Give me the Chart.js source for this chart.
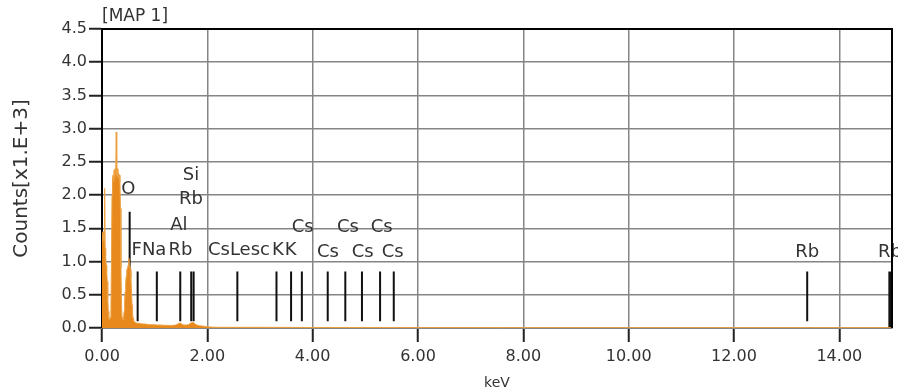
<!DOCTYPE html>
<html>
<head>
<meta charset="utf-8">
<script src="https://cdn.jsdelivr.net/npm/chart.js@4.4.1/dist/chart.umd.min.js"></script>
<style>
  html, body { margin: 0; padding: 0; background: #fff; }
  #wrap { width: 898px; height: 392px; }
</style>
</head>
<body>
<div id="wrap"><canvas id="specCanvas" width="898" height="392"></canvas></div>
<script>
// spectrum (keV, counts x1000)
const specKeV = [0.00, 0.01, 0.02, 0.03, 0.04, 0.05, 0.06, 0.07, 0.08, 0.09, 0.10, 0.11, 0.12, 0.13, 0.14, 0.15,
  0.16, 0.17, 0.18, 0.19, 0.20, 0.21, 0.22, 0.23, 0.24, 0.25, 0.26, 0.27, 0.28, 0.29, 0.30, 0.31, 0.32, 0.33,
  0.34, 0.35, 0.36, 0.37, 0.38, 0.39, 0.40, 0.41, 0.42, 0.43, 0.44, 0.45, 0.46, 0.47, 0.48, 0.49, 0.50, 0.51,
  0.52, 0.53, 0.54, 0.55, 0.56, 0.57, 0.58, 0.59, 0.60, 0.62, 0.64, 0.66, 0.68, 0.70, 0.74, 0.78, 0.82, 0.86,
  0.90, 0.95, 1.00, 1.05, 1.10, 1.15, 1.20, 1.25, 1.30, 1.35, 1.40, 1.44, 1.47, 1.50, 1.53, 1.56, 1.60, 1.64,
  1.68, 1.71, 1.74, 1.77, 1.80, 1.85, 1.90, 1.95, 2.00, 2.05, 2.10, 2.20, 2.50, 3.00, 4.00, 5.00, 6.00, 8.00,
  10.00, 12.00, 14.00, 15.00];
const specCounts = [1.30, 1.42, 1.45, 1.38, 1.30, 2.10, 1.20, 1.08, 0.95, 0.85, 0.70, 0.45, 0.25, 0.15, 0.13, 0.14,
  0.16, 0.30, 1.00, 2.00, 2.25, 2.30, 2.20, 2.38, 2.25, 2.40, 2.30, 2.95, 2.35, 2.28, 2.40, 2.32, 2.25, 2.30,
  2.20, 1.80, 0.90, 0.35, 0.16, 0.12, 0.13, 0.16, 0.25, 0.40, 0.55, 0.68, 0.78, 0.86, 0.90, 0.93, 0.95, 1.05,
  0.94, 0.92, 0.88, 0.75, 0.55, 0.35, 0.22, 0.15, 0.11, 0.09, 0.08, 0.075, 0.07, 0.07, 0.065, 0.06, 0.06, 0.055,
  0.05, 0.05, 0.048, 0.045, 0.045, 0.042, 0.04, 0.04, 0.038, 0.04, 0.045, 0.06, 0.075, 0.07, 0.05, 0.045, 0.045, 0.05,
  0.07, 0.085, 0.08, 0.06, 0.045, 0.035, 0.03, 0.025, 0.02, 0.015, 0.012, 0.01, 0.01, 0.01, 0.008, 0.008, 0.006, 0.005,
  0.005, 0.005, 0.005, 0.005];

// element marker lines
const markerKeV = [0.525, 0.677, 1.041, 1.486, 1.694, 1.740, 2.57, 3.313, 3.59, 3.795, 4.286, 4.62, 4.936, 5.28, 5.54, 13.39, 14.95, 14.98];
const markerTop = [1.75, 0.85, 0.85, 0.85, 0.85, 0.85, 0.85, 0.85, 0.85, 0.85, 0.85, 0.85, 0.85, 0.85, 0.85, 0.85, 0.85, 0.85];
const markerBottom = [0.1, 0.1, 0.1, 0.1, 0.1, 0.1, 0.1, 0.1, 0.1, 0.1, 0.1, 0.1, 0.1, 0.1, 0.1, 0.1, 0.0, 0.0];

// element labels
const labelText = ['O', 'Si', 'Rb', 'Al', 'F', 'Na', 'Rb', 'CsLesc', 'K', 'K', 'Cs', 'Cs', 'Cs', 'Cs', 'Cs', 'Cs', 'Rb', 'Rb'];
const labelKeV = [0.50, 1.69, 1.69, 1.46, 0.66, 0.99, 1.49, 2.60, 3.34, 3.58, 3.81, 4.67, 5.31, 4.29, 4.95, 5.52, 13.39, 14.96];
const labelCounts = [2.08, 2.30, 1.93, 1.55, 1.17, 1.17, 1.17, 1.17, 1.17, 1.17, 1.51, 1.51, 1.51, 1.14, 1.14, 1.14, 1.14, 1.14];

const xTicks = [0, 2, 4, 6, 8, 10, 12, 14];
const yTicks = [0, 0.5, 1, 1.5, 2, 2.5, 3, 3.5, 4, 4.5];

const FONT = 'DejaVu Sans';
const TEXT = '#333333';

function buildMarkerPoints() {
  const pts = [];
  markerKeV.forEach((e, i) => {
    pts.push({ x: e, y: markerBottom[i] });
    pts.push({ x: e, y: markerTop[i] });
    pts.push({ x: e, y: null });
  });
  return pts;
}

const labelPlugin = {
  id: 'elementLabels',
  afterDatasetsDraw: (chart) => {
    const ctx = chart.ctx;
    const xs = chart.scales.x;
    const ys = chart.scales.y;
    const area = chart.chartArea;
    ctx.save();
    ctx.font = '18px "' + FONT + '"';
    ctx.fillStyle = TEXT;
    ctx.textAlign = 'center';
    ctx.textBaseline = 'middle';
    labelText.forEach((t, i) => {
      ctx.fillText(t, xs.getPixelForValue(labelKeV[i]), ys.getPixelForValue(labelCounts[i]));
    });
    // top and right frame
    ctx.strokeStyle = '#000';
    ctx.lineWidth = 2;
    ctx.beginPath();
    ctx.moveTo(area.left, area.top);
    ctx.lineTo(area.right, area.top);
    ctx.lineTo(area.right, area.bottom);
    ctx.stroke();
    ctx.restore();
  }
};

function drawSpectrum() {
  const ctx = document.getElementById('specCanvas').getContext('2d');
  new Chart(ctx, {
    type: 'line',
    data: {
      datasets: [{
        label: 'markers',
        data: buildMarkerPoints(),
        borderColor: '#111111',
        borderWidth: 2,
        pointRadius: 0,
        fill: false,
        spanGaps: false,
        order: 2
      }, {
        label: 'spectrum',
        data: specKeV.map((e, i) => ({ x: e, y: specCounts[i] })),
        borderColor: '#eca040',
        backgroundColor: '#e8891e',
        borderWidth: 1,
        pointRadius: 0,
        tension: 0,
        fill: 'origin',
        order: 1
      }]
    },
    options: {
      responsive: false,
      animation: false,
      layout: { padding: { left: 0, right: 6, top: 0, bottom: 0 } },
      scales: {
        x: {
          type: 'linear',
          min: 0,
          max: 15,
          afterFit: (s) => { s.height = 64; },
          afterBuildTicks: (s) => { s.ticks = xTicks.map(v => ({ value: v })); },
          ticks: {
            callback: (v) => Number(v).toFixed(2),
            font: { family: FONT, size: 16 },
            color: TEXT,
            padding: 5,
            maxRotation: 0
          },
          grid: { color: '#858585', lineWidth: 1.5, tickLength: 14, tickColor: '#222', tickWidth: 2 },
          border: { color: '#858585', width: 1 },
          title: {
            display: true,
            text: 'keV',
            font: { family: FONT, size: 14 },
            color: TEXT,
            padding: { top: 0, bottom: 0 }
          }
        },
        y: {
          min: 0,
          max: 4.5,
          afterFit: (s) => { s.width = 102; },
          afterBuildTicks: (s) => { s.ticks = yTicks.map(v => ({ value: v })); },
          ticks: {
            callback: (v) => Number(v).toFixed(1),
            font: { family: FONT, size: 16 },
            color: TEXT,
            padding: 2
          },
          grid: { color: '#858585', lineWidth: 1.5, tickLength: 13, tickColor: '#222', tickWidth: 2 },
          border: { color: '#000', width: 2 },
          title: {
            display: true,
            text: 'Counts[x1.E+3]',
            font: { family: FONT, size: 20 },
            color: TEXT,
            padding: { top: 10, bottom: 0 }
          }
        }
      },
      plugins: {
        legend: { display: false },
        tooltip: { enabled: false },
        title: {
          display: true,
          text: '[MAP 1]',
          align: 'start',
          fullSize: false,
          font: { family: FONT, size: 17, weight: 'normal' },
          color: TEXT,
          padding: { top: 6, bottom: 2.6 }
        }
      }
    },
    plugins: [labelPlugin]
  });
}

drawSpectrum();
</script>
</body>
</html>
